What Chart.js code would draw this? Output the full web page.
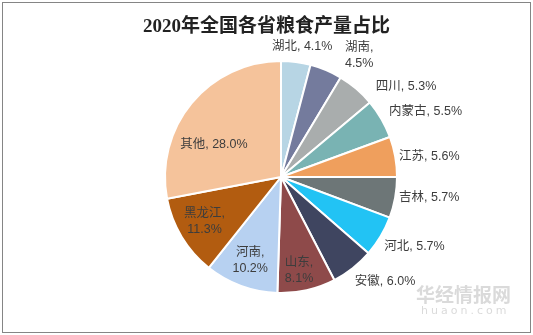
<!DOCTYPE html>
<html>
<head>
<meta charset="utf-8">
<script src="https://cdn.jsdelivr.net/npm/chart.js@4"></script>
<style>
  html, body { margin: 0; padding: 0; background: #fff; }
  #wrap { position: relative; width: 533px; height: 335px; }
  #frame { position: absolute; left: 2px; top: 2px; width: 527px; height: 329px; border: 1px solid #858585; }
  #title {
    position: absolute; left: 0; top: 10px; width: 533px; text-align: center;
    font: bold 19px "Liberation Serif", "Noto Sans CJK SC", serif; color: #222;
  }
  #wm1 { position: absolute; left: 416px; top: 280px; font: bold 19px "Noto Sans CJK SC", sans-serif; color: rgba(150,150,150,0.35); }
  #wm2 { position: absolute; left: 421px; top: 304px; font: 11px "DejaVu Sans", sans-serif; letter-spacing: 3px; color: rgba(150,150,150,0.35); }
</style>
</head>
<body>
<div id="wrap">
  <canvas id="pieChart" width="533" height="335"></canvas>
  <div id="frame"></div>
  <div id="title">2020年全国各省粮食产量占比</div>
  <div id="wm1">华经情报网</div>
  <div id="wm2">huaon.com</div>
</div>
<script>
const provinces = ["湖北", "湖南", "四川", "内蒙古", "江苏", "吉林", "河北", "安徽", "山东", "河南", "黑龙江", "其他"];
const shares = [4.1, 4.5, 5.3, 5.5, 5.6, 5.7, 5.7, 6.0, 8.1, 10.2, 11.3, 28.0];
const colors = ["#b7d5e4", "#747b9d", "#a9adad", "#79b3b3", "#ef9f5d", "#6d7677", "#22c3f4", "#3f4560", "#8e4a4a", "#b7d1f1", "#b25c10", "#f5c39b"];

// label placement: inside labels use a fraction of the radius, outside ones sit just past the rim
const labelStyle = [
  { out: true, align: "center", dx: 5, dy: -5 },
  { out: true, align: "left", dx: 15, dy: -5, wrap: true },
  { out: true, align: "left", dx: 13, dy: 5 },
  { out: true, align: "left", dx: -1, dy: -2 },
  { out: true, align: "left", dx: -6, dy: 2 },
  { out: true, align: "left", dx: -6, dy: -2 },
  { out: true, align: "left", dx: -5, dy: 5 },
  { out: true, align: "left", dx: -4, dy: 5 },
  { f: 0.82, align: "center", dx: -3, dy: 1, wrap: true },
  { f: 0.77, align: "center", dx: 0, dy: 0, wrap: true },
  { f: 0.85, align: "center", dx: 8, dy: -6, wrap: true },
  { f: 0.65, align: "center", dx: -9, dy: 16 }
];

const sliceLabels = {
  id: "sliceLabels",
  afterDatasetsDraw(chart) {
    const ctx = chart.ctx;
    const arcs = chart.getDatasetMeta(0).data;
    ctx.save();
    ctx.font = '12.5px "Liberation Sans", "Noto Sans CJK SC", sans-serif';
    ctx.fillStyle = "#3d3d3d";
    ctx.textBaseline = "middle";
    arcs.forEach((arc, i) => {
      const s = labelStyle[i];
      const mid = (arc.startAngle + arc.endAngle) / 2;
      const r = s.out ? arc.outerRadius + 10 : arc.outerRadius * s.f;
      const x = arc.x + Math.cos(mid) * r + s.dx;
      const y = arc.y + Math.sin(mid) * r + s.dy;
      const pct = shares[i].toFixed(1) + "%";
      ctx.textAlign = s.align;
      if (s.wrap) {
        ctx.fillText(provinces[i] + ",", x, y - 8);
        ctx.fillText(pct, x, y + 8);
      } else {
        ctx.fillText(provinces[i] + ", " + pct, x, y);
      }
    });
    ctx.restore();
  }
};

new Chart(document.getElementById("pieChart").getContext("2d"), {
  type: "pie",
  data: {
    labels: provinces,
    datasets: [{
      data: shares,
      backgroundColor: colors,
      borderColor: "#ffffff",
      borderWidth: 2
    }]
  },
  options: {
    responsive: false,
    animation: false,
    layout: { padding: { left: 164, right: 135, top: 60, bottom: 41 } },
    plugins: {
      legend: { display: false },
      tooltip: { enabled: false },
      title: { display: false }
    }
  },
  plugins: [sliceLabels]
});
</script>
</body>
</html>
